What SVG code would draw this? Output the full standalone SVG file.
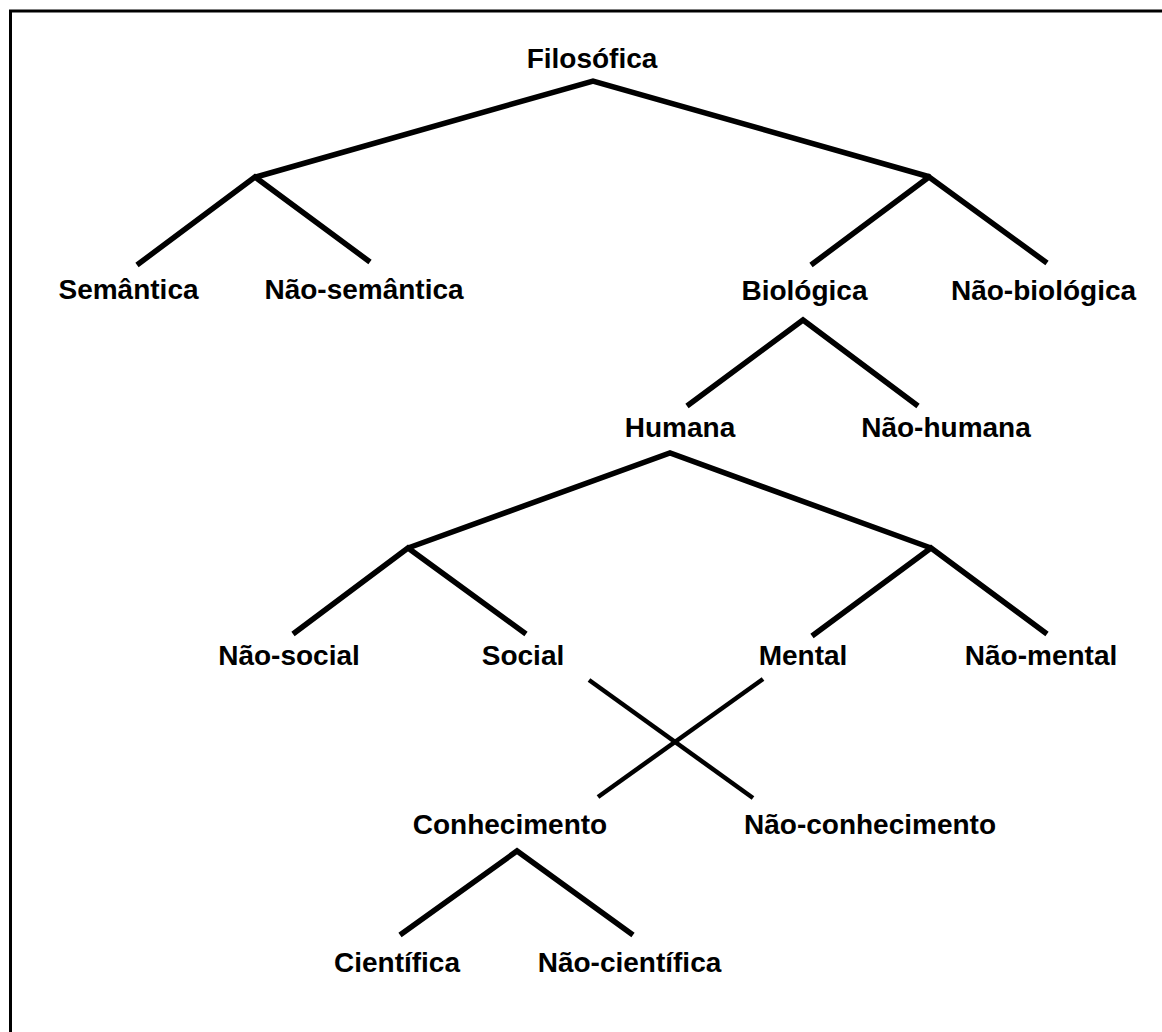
<svg xmlns="http://www.w3.org/2000/svg" width="1162" height="1032" viewBox="0 0 1162 1032">
<style>
.lbl{font-family:"Liberation Sans",Arial,sans-serif;font-weight:bold;font-size:28px;fill:#000;text-anchor:middle}
.e{fill:none;stroke:#000;stroke-width:5.5;stroke-linecap:butt;stroke-linejoin:miter}
.x{fill:none;stroke:#000;stroke-width:4.5;stroke-linecap:butt}
</style>
<rect x="0" y="0" width="1162" height="1032" fill="#fff"/>
<path d="M10.5,1040 V11 H1170" fill="none" stroke="#000" stroke-width="3"/>
<g id="connectors">
<polyline class="e" points="256,177 593,81 930,177"/>
<polyline class="e" points="137,265 255,177 370,262"/>
<polyline class="e" points="811,265 929,177 1047,263"/>
<polyline class="e" points="687,406 803,320 918,406"/>
<polyline class="e" points="408,548 670,453 931,548"/>
<polyline class="e" points="293,634 408,548 526,634"/>
<polyline class="e" points="812,636 931,548 1047,634"/>
<line class="x" x1="589" y1="680" x2="753" y2="798"/>
<line class="x" x1="763" y1="679" x2="598" y2="797"/>
<polyline class="e" points="400,935 517,851 633,935"/>
</g>
<g id="n-filosofica"><text class="lbl" x="592" y="68">Filosófica</text></g>
<g id="n-semantica"><text class="lbl" x="128.5" y="299">Semântica</text></g>
<g id="n-nao-semantica"><text class="lbl" x="364" y="299">Não-semântica</text></g>
<g id="n-biologica"><text class="lbl" x="804.5" y="300">Biológica</text></g>
<g id="n-nao-biologica"><text class="lbl" x="1043.5" y="300">Não-biológica</text></g>
<g id="n-humana"><text class="lbl" x="680" y="437">Humana</text></g>
<g id="n-nao-humana"><text class="lbl" x="946" y="437">Não-humana</text></g>
<g id="n-nao-social"><text class="lbl" x="289" y="665">Não-social</text></g>
<g id="n-social"><text class="lbl" x="523" y="665">Social</text></g>
<g id="n-mental"><text class="lbl" x="803" y="665">Mental</text></g>
<g id="n-nao-mental"><text class="lbl" x="1041" y="665">Não-mental</text></g>
<g id="n-conhecimento"><text class="lbl" x="510" y="834">Conhecimento</text></g>
<g id="n-nao-conhecimento"><text class="lbl" x="870" y="834">Não-conhecimento</text></g>
<g id="n-cientifica"><text class="lbl" x="397" y="972">Científica</text></g>
<g id="n-nao-cientifica"><text class="lbl" x="629.5" y="972">Não-científica</text></g>
</svg>
